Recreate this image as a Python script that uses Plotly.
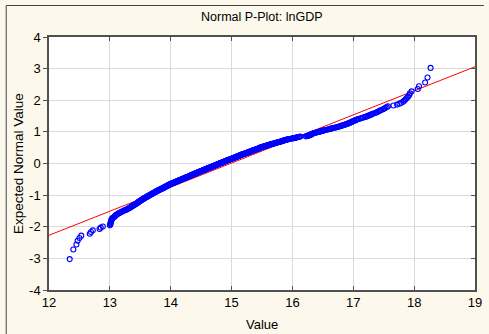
import plotly.graph_objects as go
from statistics import NormalDist

# Observed lnGDP values, sorted ascending (one per country/observation)
lngdp = [
    12.34, 12.40, 12.45, 12.47, 12.50, 12.53, 12.67, 12.69, 12.72, 12.83,
    12.85, 12.885, 13.00, 13.01,
    13.01, 13.015, 13.02, 13.02, 13.03, 13.03, 13.04, 13.05, 13.07, 13.08,
    13.09, 13.10, 13.11, 13.13, 13.14, 13.16, 13.18, 13.19, 13.21, 13.23,
    13.24, 13.26, 13.28, 13.29, 13.30, 13.32,
    13.33, 13.34, 13.35, 13.36, 13.37, 13.38, 13.39, 13.40, 13.41, 13.42,
    13.43, 13.44, 13.45, 13.455, 13.46, 13.47, 13.48, 13.485, 13.49, 13.50,
    13.51, 13.52, 13.52, 13.53, 13.54, 13.55, 13.56, 13.56, 13.57, 13.58,
    13.59, 13.60, 13.60, 13.61, 13.62, 13.63, 13.64, 13.64, 13.65, 13.66,
    13.67, 13.67, 13.68, 13.69, 13.70, 13.70, 13.71, 13.72, 13.72, 13.73,
    13.74, 13.75, 13.75, 13.76, 13.77, 13.77, 13.78, 13.79, 13.79, 13.80,
    13.81, 13.82, 13.82, 13.83, 13.84, 13.85, 13.85, 13.86, 13.87, 13.88,
    13.88, 13.89, 13.90, 13.90, 13.91, 13.91, 13.92, 13.93, 13.93, 13.94,
    13.95, 13.95, 13.96, 13.96, 13.97, 13.98, 13.98, 13.99, 13.99, 14.00,
    14.01, 14.02, 14.02, 14.03, 14.04, 14.05, 14.06, 14.06, 14.07, 14.08,
    14.09, 14.09, 14.10, 14.11, 14.11, 14.12, 14.13, 14.13, 14.14, 14.15,
    14.16, 14.16, 14.17, 14.18, 14.18, 14.19, 14.20, 14.20, 14.21, 14.22,
    14.23, 14.23, 14.24, 14.25, 14.25, 14.26, 14.27, 14.27, 14.28, 14.29,
    14.30, 14.30, 14.31, 14.31, 14.32, 14.33, 14.33, 14.34, 14.34, 14.35,
    14.36, 14.36, 14.37, 14.38, 14.38, 14.39, 14.40, 14.40, 14.41, 14.42,
    14.42, 14.43, 14.44, 14.44, 14.45, 14.45, 14.46, 14.47, 14.47, 14.48,
    14.49, 14.49, 14.50, 14.51, 14.51, 14.52, 14.53, 14.53, 14.54, 14.55,
    14.55, 14.56, 14.57, 14.57, 14.58, 14.58, 14.59, 14.60, 14.60, 14.61,
    14.62, 14.62, 14.63, 14.64, 14.64, 14.65, 14.66, 14.66, 14.67, 14.68,
    14.68, 14.69, 14.70, 14.70, 14.71, 14.71, 14.72, 14.73, 14.73, 14.74,
    14.75, 14.75, 14.76, 14.76, 14.77, 14.78, 14.78, 14.79, 14.79, 14.80,
    14.81, 14.81, 14.82, 14.83, 14.83, 14.84, 14.85, 14.85, 14.86, 14.87,
    14.87, 14.88, 14.89, 14.89, 14.90, 14.90, 14.91, 14.92, 14.92, 14.93,
    14.94, 14.94, 14.95, 14.96, 14.96, 14.97, 14.98, 14.98, 14.99, 15.00,
    15.01, 15.01, 15.02, 15.03, 15.03, 15.04, 15.05, 15.05, 15.06, 15.07,
    15.07, 15.08, 15.09, 15.09, 15.10, 15.10, 15.11, 15.12, 15.12, 15.13,
    15.14, 15.14, 15.15, 15.16, 15.16, 15.17, 15.18, 15.18, 15.19, 15.20,
    15.21, 15.22, 15.22, 15.23, 15.24, 15.25, 15.25, 15.26, 15.27, 15.28,
    15.29, 15.29, 15.30, 15.31, 15.31, 15.32, 15.33, 15.33, 15.34, 15.35,
    15.36, 15.37, 15.37, 15.38, 15.39, 15.40, 15.40, 15.41, 15.42, 15.43,
    15.44, 15.44, 15.45, 15.46, 15.46, 15.47, 15.48, 15.48, 15.49, 15.50,
    15.51, 15.52, 15.53, 15.54, 15.55, 15.56, 15.57, 15.58, 15.59, 15.60,
    15.61, 15.62, 15.63, 15.64, 15.65, 15.66, 15.67, 15.68, 15.70, 15.71,
    15.72, 15.73, 15.74, 15.75, 15.76, 15.78, 15.79, 15.80, 15.81, 15.82,
    15.83, 15.84, 15.85, 15.86, 15.87, 15.89, 15.90, 15.91, 15.92, 15.93,
    15.95, 15.97, 15.99, 16.01, 16.02, 16.04, 16.05, 16.07, 16.08, 16.10,
    16.11, 16.13,
    16.22, 16.24, 16.25, 16.26, 16.27, 16.28, 16.29, 16.30,
    16.31, 16.31, 16.32, 16.33, 16.33, 16.35, 16.36, 16.38, 16.39, 16.41,
    16.43, 16.44, 16.46, 16.47, 16.49, 16.51, 16.52, 16.54, 16.56, 16.58,
    16.60, 16.62, 16.63, 16.65, 16.67, 16.69, 16.71, 16.73, 16.75, 16.77,
    16.78, 16.80, 16.82, 16.83, 16.85, 16.87, 16.88, 16.90, 16.91, 16.93,
    16.94, 16.95, 16.97, 16.98, 16.99, 17.01, 17.02, 17.04, 17.05, 17.07,
    17.09, 17.12, 17.14, 17.16, 17.19, 17.21, 17.23, 17.25, 17.27, 17.29,
    17.31, 17.33, 17.36, 17.38, 17.40, 17.42, 17.44, 17.46, 17.49, 17.51,
    17.53, 17.55, 17.57, 17.66, 17.72, 17.76, 17.79, 17.82, 17.84, 17.86,
    17.88, 17.90, 17.92, 17.93, 17.96, 18.06, 18.08, 18.18, 18.22, 18.27,
]

# Reference normal line (value -> expected normal value) at the axis ends
line_x = [12, 19]
line_z = [-2.27, 3.06]

x_ticks = [12, 13, 14, 15, 16, 17, 18, 19]
y_ticks = [-4, -3, -2, -1, 0, 1, 2, 3, 4]

# Expected normal values (Blom scores) from the ranks of the sorted values
values = sorted(lngdp)
n = len(values)
nd = NormalDist()
expected = [nd.inv_cdf((i - 0.375) / (n + 0.25)) for i in range(1, n + 1)]

FONT = "Liberation Sans, Arial, sans-serif"
AXIS_COL = "#505050"
GRID_COL = "#dadada"

fig = go.Figure()

fig.add_trace(go.Scatter(
    x=line_x, y=line_z, mode="lines",
    line=dict(color="#ff0000", width=1),
    hoverinfo="skip", showlegend=False,
))

fig.add_trace(go.Scatter(
    x=values, y=expected, mode="markers",
    marker=dict(symbol="circle-open", size=5, color="#0000ff",
                line=dict(width=1.1, color="#0000ff")),
    showlegend=False,
))

# invisible trace so the right-hand tick axis is drawn
fig.add_trace(go.Scatter(x=[12], y=[0], yaxis="y2", mode="markers",
                         marker=dict(opacity=0), hoverinfo="skip",
                         showlegend=False))

W, H = 489, 334
L, R, T, B = 49, 7, 37, 44
pw, ph = W - L - R, H - T - B


def px(xp):
    return (xp - L) / pw


def py(yp):
    return (H - B - yp) / ph


fig.update_layout(
    width=W, height=H,
    margin=dict(l=L, r=R, t=T, b=B),
    paper_bgcolor="#fdf8ec",
    plot_bgcolor="#ffffff",
    font=dict(family=FONT, size=13, color="#000000"),
    xaxis=dict(
        range=[12, 19], tickvals=x_ticks, ticktext=[str(v) for v in x_ticks],
        showgrid=True, gridcolor=GRID_COL, gridwidth=1, zeroline=False,
        showline=True, linecolor=AXIS_COL, linewidth=1.5, mirror="ticks",
        ticks="inside", ticklen=4, tickcolor=AXIS_COL, tickwidth=1,
        tickfont=dict(family=FONT, size=13),
    ),
    yaxis=dict(
        range=[-4, 4], tickvals=y_ticks, ticktext=[str(v) for v in y_ticks],
        showgrid=True, gridcolor=GRID_COL, gridwidth=1, zeroline=False,
        showline=True, linecolor=AXIS_COL, linewidth=1.5, mirror=True,
        ticks="outside", ticklen=4, tickcolor=AXIS_COL, tickwidth=1,
        tickfont=dict(family=FONT, size=13),
    ),
    yaxis2=dict(
        overlaying="y", side="right", range=[-4, 4], tickvals=y_ticks,
        showticklabels=False, showgrid=False, zeroline=False, showline=False,
        ticks="inside", ticklen=4, tickcolor=AXIS_COL, tickwidth=1,
    ),
    annotations=[
        dict(text="Normal P-Plot: lnGDP", xref="paper", yref="paper",
             x=0.5, y=py(17), xanchor="center", yanchor="middle",
             showarrow=False, font=dict(family=FONT, size=12.5)),
        dict(text="Value", xref="paper", yref="paper",
             x=0.5, y=py(324), xanchor="center", yanchor="middle",
             showarrow=False, font=dict(family=FONT, size=13)),
        dict(text="Expected Normal Value", xref="paper", yref="paper",
             x=px(18), y=0.5, xanchor="center", yanchor="middle",
             textangle=-90, showarrow=False,
             font=dict(family=FONT, size=13.5)),
    ],
    shapes=[
        dict(type="line", xref="paper", yref="paper",
             x0=px(5.5), x1=px(5.5), y0=py(5.5), y1=py(H + 2),
             line=dict(color="#444444", width=1)),
        dict(type="line", xref="paper", yref="paper",
             x0=px(5.5), x1=px(W + 2), y0=py(5.5), y1=py(5.5),
             line=dict(color="#444444", width=1)),
    ],
)

fig.write_html("out.html")
